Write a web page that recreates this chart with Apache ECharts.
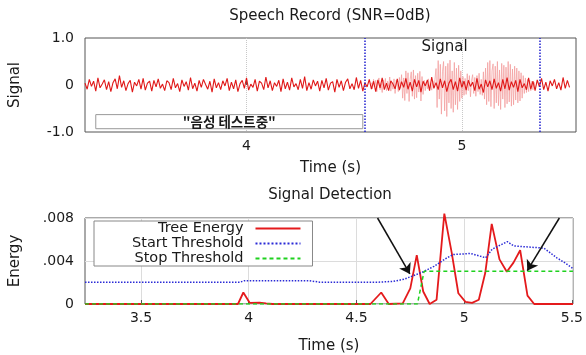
<!DOCTYPE html>
<html>
<head>
<meta charset="utf-8">
<script src="https://cdn.jsdelivr.net/npm/echarts@6/dist/echarts.min.js"></script>
<style>
  html, body { margin: 0; padding: 0; background: #fff; }
  #chart { width: 586px; height: 355px; }
</style>
</head>
<body>
<div id="chart"></div>
<script>
// top panel: noisy recording, sampled every 10 ms
const noiseStart = 3.25
const noiseStep = 0.01
const noiseValues = [
  0.04, -0.09, 0.12, -0.03, 0.08, -0.13, 0.15, -0.06, 0.02, 0.11, -0.1, 0.07, -0.14, 0.05, 0.13,
  -0.08, 0.2, -0.05, 0.09, -0.12, 0.03, 0.1, -0.15, 0.06, -0.02, 0.12, -0.09, 0.14, -0.11, 0.04,
  0.08, -0.13, 0.1, -0.04, 0.13, -0.07, 0.02, -0.12, 0.09, 0.05, -0.1, 0.14, -0.06, 0.03, -0.14,
  0.11, -0.03, 0.07, -0.11, 0.16, -0.08, 0.04, -0.13, 0.1, -0.05, 0.12, 0.01, -0.09, 0.08, -0.15,
  0.13, -0.06, 0.05, -0.1, 0.09, -0.02, 0.14, -0.12, 0.06, -0.08, 0.11, -0.14, 0.03, 0.1, -0.07,
  0.15, -0.11, 0.02, -0.05, 0.12, -0.13, 0.08, 0.04, -0.1, 0.17, -0.06, 0.09, -0.12, 0.05, -0.03,
  0.1, -0.14, 0.13, -0.08, 0.06, -0.11, 0.15, -0.04, 0.03, -0.1, 0.12, -0.07, 0.18, -0.12, 0.05,
  -0.09, 0.11, -0.02, 0.08, -0.13, 0.1, -0.06, 0.14, -0.11, 0.04, 0.07, -0.15, 0.12, -0.05, 0.09,
  -0.12, 0.06, 0.13, -0.08, 0.03, -0.1, 0.16, -0.07, 0.1, -0.13, 0.05, -0.04, 0.12, -0.09, 0.08,
  -0.14, 0.11, -0.06, 0.15, -0.1, 0.04, -0.12, 0.09, 0.02, -0.08, 0.13, -0.11, 0.07, -0.05, 0.14,
  -0.09, 0.06, -0.13, 0.12, -0.04, 0.1, -0.15, 0.08, -0.02, 0.11, -0.12, 0.17, -0.07, 0.05, -0.1,
  0.13, -0.06, 0.09, -0.14, 0.04, 0.12, -0.1, 0.07, -0.13, 0.15, -0.05, 0.08, -0.11, 0.1, -0.03,
  0.06, -0.12, 0.14, -0.09, 0.02, -0.16, 0.11, -0.04, 0.09, -0.1, 0.13, -0.07, 0.05, -0.13, 0.12,
  -0.08, 0.16, -0.11, 0.07, -0.05, 0.1, -0.14, 0.12, -0.06, 0.03, -0.1, 0.15, -0.09, 0.08, -0.12,
  0.11, -0.04, 0.14, -0.1, 0.06, -0.13, 0.09, -0.02, 0.12, -0.08, 0.05, -0.11, 0.16, -0.07, 0.1,
  -0.05,
]

// speech part, sampled every 5 ms
const speechStart = 4.58
const speechStep = 0.005
const speechValues = [
  0.05, -0.08, 0.12, -0.04, 0.1, -0.14, 0.06, 0.15, -0.1, 0.03, -0.16, 0.11, -0.05, 0.14, -0.12,
  0.08, -0.03, 0.17, -0.13, 0.06, -0.09, 0.13, -0.18, 0.1, 0.02, -0.14, 0.16, -0.07,
  0.22, -0.28, 0.15, -0.33, 0.3, -0.18, 0.26, -0.35, 0.12, 0.28, -0.24, 0.32, -0.3, 0.2, -0.27,
  0.25, -0.15, 0.29, -0.34, 0.18, -0.2,
  0.1, -0.12, 0.06, -0.08, 0.13, -0.1, 0.04, -0.11, 0.09, -0.06, 0.12,
  0.35, -0.48, 0.52, -0.3, 0.44, -0.62, 0.28, 0.5, -0.55, 0.4, -0.67, 0.46, -0.38, 0.53, -0.5,
  0.3, -0.58, 0.48, -0.42, 0.36, -0.52, 0.42, -0.35, 0.3, -0.28,
  0.18, -0.22, 0.14, -0.2, 0.24, -0.12, 0.2, -0.25, 0.1, 0.22, -0.18, 0.16, -0.24, 0.2, -0.14,
  0.25, -0.2, 0.12, -0.22, 0.28, -0.3,
  0.36, -0.42, 0.48, -0.35, 0.52, -0.46, 0.3, 0.45, -0.5, 0.4, -0.38, 0.5, -0.44, 0.32, -0.52,
  0.46, -0.3, 0.42, -0.48, 0.38, -0.4, 0.5, -0.36, 0.44, -0.45, 0.34, -0.42, 0.4, -0.32, 0.36,
  -0.38, 0.3, -0.34, 0.26, -0.28,
  0.2, -0.18, 0.15, -0.16, 0.12, -0.14, 0.1, -0.12, 0.08, -0.1, 0.06, -0.05,
]

const boundaryTimes = [4.546, 5.36]
const noteBox = [3.3, -0.63, 4.54, -0.93]
const signalLabelAt = [4.92, 0.8]

// bottom panel: detection
const treeTime = [3.24, 3.95, 3.975, 4.005, 4.05, 4.08, 4.11, 4.565, 4.615, 4.65, 4.715, 4.75, 4.78, 4.81, 4.84,
  4.872, 4.908, 4.942, 4.973, 5.006, 5.037, 5.068, 5.098, 5.128, 5.164, 5.198, 5.229, 5.26, 5.294, 5.325, 5.505]
const treeValue = [0, 0, 0.00107, 0.0001, 0.00012, 0.00005, 0, 0, 0.00107, 0, 0.00005, 0.00145, 0.00455, 0.00116, 0,
  0.0004, 0.0084, 0.0048, 0.001, 0.0002, 0.0001, 0.0004, 0.0029, 0.00745, 0.00415, 0.003, 0.00385, 0.005, 0.00078, 0, 0]

const startTime = [3.24, 3.96, 3.98, 4.28, 4.33, 4.6, 4.67, 4.72, 4.76, 4.81, 4.86, 4.92, 4.95, 5.03, 5.1, 5.13,
  5.2, 5.23, 5.3, 5.37, 5.43, 5.47, 5.505]
const startValue = [0.00203, 0.00203, 0.00217, 0.00217, 0.00203, 0.00203, 0.0021, 0.0023, 0.0026, 0.003, 0.0035,
  0.0043, 0.0046, 0.0047, 0.0043, 0.0051, 0.0058, 0.0054, 0.0053, 0.0052, 0.0043, 0.0038, 0.0033]

const stopTime = [3.24, 4.783, 4.814, 5.505]
const stopValue = [0, 0, 0.00304, 0.00304]

// arrow annotations: [fromTime, fromEnergy, toTime, toEnergy]
const arrows = [
  [4.598, 0.008, 4.748, 0.0028],
  [5.442, 0.008, 5.293, 0.0031],
]

const topTicks = [4, 5]
const bottomTicks = [3.5, 4, 4.5, 5, 5.5]

const FONT = 'DejaVu Sans'
const INK = '#1a1a1a'

function sampled(start, step, values) {
  return values.map((v, i) => [+(start + i * step).toFixed(4), v])
}
function pairs(xs, ys) {
  return xs.map((x, i) => [x, ys[i]])
}

const chart = echarts.init(document.getElementById('chart'), null, { renderer: 'canvas' })

const axisText = { color: INK, fontFamily: FONT, fontSize: 14 }
const nameText = { color: INK, fontFamily: FONT, fontSize: 15 }

chart.setOption({
  animation: false,
  backgroundColor: '#fff',
  grid: [
    { left: 84, right: 10, top: 38, height: 94, show: true, borderColor: '#555', borderWidth: 1, backgroundColor: 'transparent' },
    { left: 84, right: 10, top: 218, height: 92, show: true, borderColor: '#555', borderWidth: 1, backgroundColor: 'transparent' },
  ],
  graphic: [
    { type: 'text', x: 330, y: 16, style: { text: 'Speech Record (SNR=0dB)', align: 'center', verticalAlign: 'middle', fill: INK, font: '15px ' + FONT } },
    { type: 'text', x: 330, y: 195, style: { text: 'Signal Detection', align: 'center', verticalAlign: 'middle', fill: INK, font: '15px ' + FONT } },
  ],
  legend: {
    data: ['Tree Energy', 'Start Threshold', 'Stop Threshold'],
    orient: 'vertical',
    align: 'right',
    left: 94,
    top: 221,
    padding: [0, 11, 0, 38],
    itemGap: 0,
    itemWidth: 45,
    itemHeight: 14,
    itemStyle: { opacity: 0 },
    backgroundColor: '#fff',
    borderColor: '#888',
    borderWidth: 1,
    borderRadius: 0,
    textStyle: { color: INK, fontFamily: FONT, fontSize: 14.5, lineHeight: 14, padding: [0, 7, 0, 0] },
  },
  xAxis: [
    {
      gridIndex: 0, type: 'value', min: 3.25, max: 5.53,
      name: 'Time (s)', nameLocation: 'middle', nameGap: 29, nameTextStyle: nameText,
      axisLine: { show: false },
      axisTick: { show: true, inside: true, length: 4, customValues: topTicks, lineStyle: { color: '#555' } },
      axisLabel: { customValues: topTicks, margin: 7, ...axisText },
      splitLine: { show: true, lineStyle: { color: '#c8c8c8', type: 'dotted' } },
    },
    {
      gridIndex: 1, type: 'value', min: 3.24, max: 5.505,
      name: 'Time (s)', nameLocation: 'middle', nameGap: 35, nameTextStyle: nameText,
      axisLine: { show: false },
      axisTick: { show: true, inside: true, length: 4, customValues: bottomTicks, lineStyle: { color: '#555' } },
      axisLabel: { customValues: bottomTicks, margin: 7, ...axisText },
      splitLine: { show: true, lineStyle: { color: '#dcdcdc', type: 'solid' } },
    },
  ],
  yAxis: [
    {
      gridIndex: 0, type: 'value', min: -1, max: 1, interval: 1,
      name: 'Signal', nameLocation: 'middle', nameGap: 62, nameRotate: 90, nameTextStyle: nameText,
      axisLine: { show: false },
      axisTick: { show: false },
      axisLabel: { margin: 11, ...axisText, formatter: v => (v === 0 ? '0' : v.toFixed(1)) },
      splitLine: { show: false },
    },
    {
      gridIndex: 1, type: 'value', min: 0, max: 0.008, interval: 0.004,
      name: 'Energy', nameLocation: 'middle', nameGap: 62, nameRotate: 90, nameTextStyle: nameText,
      axisLine: { show: false },
      axisTick: { show: false },
      axisLabel: { margin: 11, ...axisText, formatter: v => (v === 0 ? '0' : v.toFixed(3).replace(/^0/, '')) },
      splitLine: { show: true, lineStyle: { color: '#dcdcdc' } },
    },
  ],
  series: [
    {
      name: 'Speech',
      type: 'line', xAxisIndex: 0, yAxisIndex: 0,
      symbol: 'none',
      data: sampled(speechStart, speechStep, speechValues),
      lineStyle: { color: '#f29b9b', width: 0.8, opacity: 0.9 },
      markLine: {
        silent: true, symbol: 'none', label: { show: false },
        lineStyle: { color: '#2020d0', type: 'dotted', width: 1.5 },
        data: boundaryTimes.map(t => ({ xAxis: t })),
      },
      markArea: {
        silent: true,
        itemStyle: { color: '#fff', borderColor: '#999', borderWidth: 1 },
        label: {
          show: true, position: 'inside', formatter: '"음성 테스트중"',
          fontFamily: 'Noto Sans CJK KR', fontSize: 13.5, fontWeight: 'bold', color: INK,
        },
        data: [[{ coord: [noteBox[0], noteBox[1]] }, { coord: [noteBox[2], noteBox[3]] }]],
      },
    },
    {
      name: 'Noise',
      type: 'line', xAxisIndex: 0, yAxisIndex: 0,
      symbol: 'none',
      data: sampled(noiseStart, noiseStep, noiseValues),
      lineStyle: { color: '#e01818', width: 1.1 },
      markPoint: {
        silent: true, symbol: 'circle', symbolSize: 0,
        label: { show: true, formatter: 'Signal', color: INK, fontFamily: FONT, fontSize: 15, position: 'inside' },
        data: [{ coord: signalLabelAt }],
      },
    },
    {
      name: 'Tree Energy',
      type: 'line', xAxisIndex: 1, yAxisIndex: 1,
      symbol: 'none', clip: false,
      data: pairs(treeTime, treeValue),
      itemStyle: { color: '#e41a1c' },
      lineStyle: { color: '#e41a1c', width: 1.8 },
      markLine: {
        silent: true,
        symbol: ['none', 'arrow'], symbolSize: 10,
        label: { show: false },
        itemStyle: { color: '#111' },
        lineStyle: { color: '#111', type: 'solid', width: 1.5 },
        data: arrows.map(a => [{ coord: [a[0], a[1]] }, { coord: [a[2], a[3]] }]),
      },
    },
    {
      name: 'Start Threshold',
      type: 'line', xAxisIndex: 1, yAxisIndex: 1,
      symbol: 'none',
      data: pairs(startTime, startValue),
      itemStyle: { color: '#2a2ad6' },
      lineStyle: { color: '#2a2ad6', width: 1.5, type: 'dotted' },
    },
    {
      name: 'Stop Threshold',
      type: 'line', xAxisIndex: 1, yAxisIndex: 1,
      symbol: 'none',
      data: pairs(stopTime, stopValue),
      itemStyle: { color: '#1fd11f' },
      lineStyle: { color: '#1fd11f', width: 1.5, type: [4, 3] },
    },
  ],
})
</script>
</body>
</html>
